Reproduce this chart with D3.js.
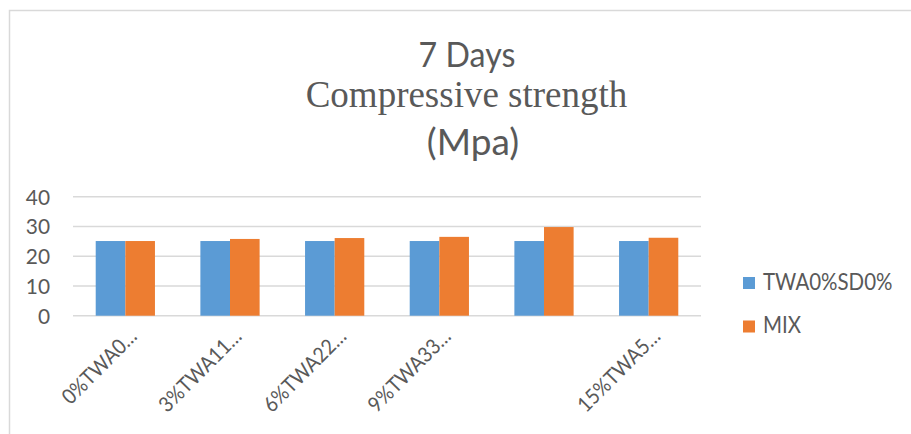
<!DOCTYPE html>
<html>
<head>
<meta charset="utf-8">
<script src="https://cdn.jsdelivr.net/npm/d3@7"></script>
<style>
  html, body { margin: 0; padding: 0; background: #ffffff; }
  svg { display: block; }
</style>
</head>
<body>
<svg id="chart" width="911" height="434"></svg>
<script>
// Mix designs along the category axis
const categories = ["0%TWA0%SD0%", "3%TWA11%SD", "6%TWA22%SD", "9%TWA33%SD", "12%TWA44%SD", "15%TWA55%SD"];
// Labels shown under the axis (the fifth one is dropped by the layout)
const tickLabels = ["0%TWA0…", "3%TWA11…", "6%TWA22…", "9%TWA33…", "", "15%TWA5…"];
const seriesNames = ["TWA0%SD0%", "MIX"];
// 7-day compressive strength, MPa
const controlValues = [25.1, 25.1, 25.1, 25.1, 25.1, 25.1];
const mixValues = [25.1, 25.8, 26.1, 26.5, 29.8, 26.2];
const yTicks = [0, 10, 20, 30, 40];
const colors = ["#5b9bd5", "#ed7d31"];

const rows = categories.map((c, i) => ({ cat: c, values: [controlValues[i], mixValues[i]] }));

const svg = d3.select("#chart");
const textColor = "#595959";
const gridColor = "#d9d9d9";
const sans = "Lato, 'Open Sans', sans-serif";

// text helper: places a label at (x, y) with an optional horizontal squeeze
function label(parent, x, y, str, opts) {
  const g = parent.append("g")
    .attr("transform", `translate(${x},${y}) ${opts.rotate ? `rotate(${opts.rotate})` : ""} scale(${opts.sx || 1},1)`);
  g.append("text")
    .attr("text-anchor", opts.anchor || "start")
    .attr("font-family", opts.font || sans)
    .attr("font-size", opts.size)
    .attr("fill", textColor)
    .text(str);
  return g;
}

// chart frame
svg.append("path")
  .attr("d", "M9.5,434 V10.5 H911")
  .attr("fill", "none")
  .attr("stroke", gridColor)
  .attr("stroke-width", 1.5);

const plot = { left: 73, right: 701, top: 196.7, bottom: 315.7 };

const x0 = d3.scaleBand()
  .domain(categories)
  .range([plot.left, plot.right])
  .paddingInner(0.434)
  .paddingOuter(0.217);
const x1 = d3.scaleBand()
  .domain(d3.range(seriesNames.length))
  .range([0, x0.bandwidth()]);
const y = d3.scaleLinear().domain([0, 40]).range([plot.bottom, plot.top]);

// gridlines
svg.append("g")
  .selectAll("line")
  .data(yTicks)
  .join("line")
  .attr("x1", plot.left)
  .attr("x2", plot.right)
  .attr("y1", d => y(d))
  .attr("y2", d => y(d))
  .attr("stroke", gridColor)
  .attr("stroke-width", 1.5);

// y tick labels
const yAxisG = svg.append("g");
yTicks.forEach(t => label(yAxisG, 50, y(t) + 8, t, { anchor: "end", size: 22, sx: 0.95 }));

// bars
svg.append("g")
  .selectAll("g")
  .data(rows)
  .join("g")
  .attr("transform", d => `translate(${x0(d.cat)},0)`)
  .selectAll("rect")
  .data(d => d.values.map((v, k) => ({ k, v })))
  .join("rect")
  .attr("x", d => x1(d.k))
  .attr("width", x1.bandwidth())
  .attr("y", d => y(d.v))
  .attr("height", d => y(0) - y(d.v))
  .attr("fill", d => colors[d.k]);

// category labels, rotated
const xAxisG = svg.append("g");
categories.forEach((c, i) => {
  label(xAxisG, x0(c) + x0.bandwidth() / 2 + 13, plot.bottom + 22, tickLabels[i],
    { anchor: "end", size: 21, rotate: -45, sx: 0.92 });
});

// title
const titleG = svg.append("g");
label(titleG, 467, 66.7, "7 Days", { anchor: "middle", size: 35, sx: 0.92 });
label(titleG, 466.5, 107.3, "Compressive strength",
  { anchor: "middle", size: 37, font: "'Liberation Serif', 'Times New Roman', serif" });
label(titleG, 473, 155, "(Mpa)", { anchor: "middle", size: 37 });

// legend
const legendG = svg.append("g");
seriesNames.forEach((name, i) => {
  const ly = 277 + i * 43.5;
  legendG.append("rect")
    .attr("x", 743).attr("y", ly)
    .attr("width", 12).attr("height", 12)
    .attr("fill", colors[i]);
  label(legendG, 763, ly + 12.5, name, { size: 23, sx: 0.89 });
});
</script>
</body>
</html>
